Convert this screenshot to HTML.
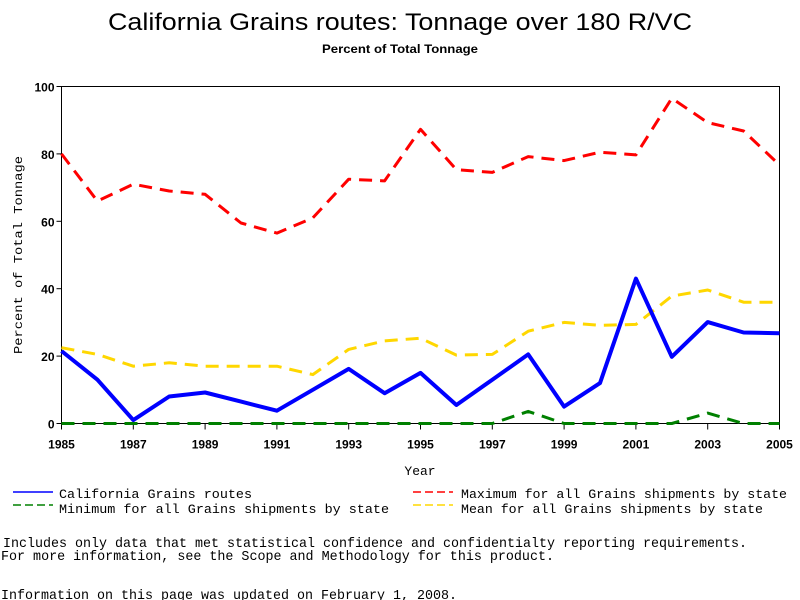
<!DOCTYPE html>
<html><head><meta charset="utf-8"><style>
html,body{margin:0;padding:0;background:#fff;}
svg{display:block;}
</style></head><body>
<svg id="chart" width="800" height="600" viewBox="0 0 800 600" xmlns="http://www.w3.org/2000/svg" font-family="Liberation Sans, sans-serif">
<text x="400" y="30" text-anchor="middle" font-size="24" textLength="584" lengthAdjust="spacingAndGlyphs">California Grains routes: Tonnage over 180 R/VC</text>
<text x="400" y="53" text-anchor="middle" font-size="12" font-weight="bold" textLength="156" lengthAdjust="spacingAndGlyphs">Percent of Total Tonnage</text>
<g id="axes"></g>
<g id="series"></g>
<text x="420" y="475" text-anchor="middle" font-family="Liberation Mono, monospace" font-size="13">Year</text>
<text transform="translate(22,255) rotate(-90)" text-anchor="middle" font-family="Liberation Mono, monospace" font-size="12" textLength="198" lengthAdjust="spacingAndGlyphs">Percent of Total Tonnage</text>
<g font-family="Liberation Mono, monospace" font-size="13">
 <g>
  <line x1="13" y1="492" x2="53" y2="492" stroke="#0000ff" stroke-width="1.5"/>
  <text x="59" y="498" textLength="193" lengthAdjust="spacingAndGlyphs">California Grains routes</text>
 </g>
 <g>
  <line x1="13" y1="505" x2="53" y2="505" stroke="#008000" stroke-width="1.5" stroke-dasharray="8,4"/>
  <text x="59" y="513" textLength="330" lengthAdjust="spacingAndGlyphs">Minimum for all Grains shipments by state</text>
 </g>
 <g>
  <line x1="413" y1="492" x2="453" y2="492" stroke="#ff0000" stroke-width="1.5" stroke-dasharray="8,4"/>
  <text x="461" y="498" textLength="326" lengthAdjust="spacingAndGlyphs">Maximum for all Grains shipments by state</text>
 </g>
 <g>
  <line x1="413" y1="505" x2="453" y2="505" stroke="#ffd700" stroke-width="1.5" stroke-dasharray="8,4"/>
  <text x="461" y="513" textLength="302" lengthAdjust="spacingAndGlyphs">Mean for all Grains shipments by state</text>
 </g>
</g>
<g font-family="Liberation Mono, monospace" font-size="14">
<text x="3" y="547" textLength="744" lengthAdjust="spacingAndGlyphs">Includes only data that met statistical confidence and confidentialty reporting requirements.</text>
<text x="1" y="560" textLength="553" lengthAdjust="spacingAndGlyphs">For more information, see the Scope and Methodology for this product.</text>
<text x="1" y="599" textLength="456" lengthAdjust="spacingAndGlyphs">Information on this page was updated on February 1, 2008.</text>
</g>
</svg>
<script>
const years = [1985,1986,1987,1988,1989,1990,1991,1992,1993,1994,1995,1996,1997,1998,1999,2000,2001,2002,2003,2004,2005];
const californiaValues = [21.5,13,1,8,9.2,6.5,3.8,10,16.2,9,15,5.5,13,20.5,5,12,43,19.8,30.1,27,26.8];
const maximumValues = [80,66,71,69,68,59.5,56.5,61,72.5,72,87.3,75.3,74.5,79.2,78,80.5,79.7,96.5,89.3,86.8,76.7];
const meanValues = [22.5,20.5,17,18,17,17,17,14.5,22,24.5,25.3,20.3,20.5,27.4,30,29.1,29.4,37.8,39.6,36,36];
const minimumValues = [0,0,0,0,0,0,0,0,0,0,0,0,0,3.6,0,0,0,0,3.1,0,0];
const yTicks = [0,20,40,60,80,100];
const xTickLabels = [1985,1987,1989,1991,1993,1995,1997,1999,2001,2003,2005];

const NS = 'http://www.w3.org/2000/svg';
const X0 = 61.5, X1 = 779.5, Y0 = 423.5, Y1 = 86.5;
const xScale = y => X0 + (y - 1985) / 20 * (X1 - X0);
const yScale = v => Y0 - v / 100 * (Y0 - Y1);
function mk(tag, attrs, parent){ const e=document.createElementNS(NS,tag); for(const k in attrs) e.setAttribute(k,attrs[k]); parent.appendChild(e); return e; }

const axes = document.getElementById('axes');
const frame = mk('rect',{x:X0,y:Y1,width:X1-X0,height:Y0-Y1,fill:'none',stroke:'#000','stroke-width':1},axes);


yTicks.forEach(t=>{
  const y=yScale(t);
  const tk=mk('line',{x1:X0-5,y1:y,x2:X0,y2:y,stroke:'#000'},axes);
  
  
  const lb=mk('text',{x:X0-7,y:y+5,'text-anchor':'end','font-size':12,'font-weight':'bold'},axes);
  
  
  lb.textContent=t;
});
xTickLabels.forEach(t=>{
  const x=xScale(t);
  const tk=mk('line',{x1:x,y1:Y0,x2:x,y2:Y0+6,stroke:'#000'},axes);
  
  
  const lb=mk('text',{x:x,y:Y0+25,'text-anchor':'middle','font-size':12,'font-weight':'bold'},axes);
  
  
  lb.textContent=t;
});

const series = document.getElementById('series');
function drawLine(vals, color, width, dash, name){
  const pts = vals.map((v,i)=>xScale(years[i]).toFixed(1)+','+yScale(v).toFixed(1)).join(' ');
  const attrs={points:pts,fill:'none',stroke:color,'stroke-width':width,'stroke-linejoin':'round'};
  if(dash) attrs['stroke-dasharray']=dash;
  const p=mk('polyline',attrs,series);
  
  
}
drawLine(minimumValues,'#008000',3,'13,8','minimum-line');
drawLine(meanValues,'#ffd700',3,'13,8','mean-line');
drawLine(maximumValues,'#ff0000',3,'13,8','maximum-line');
drawLine(californiaValues,'#0000ff',4,null,'california-line');
</script>
</body></html>
